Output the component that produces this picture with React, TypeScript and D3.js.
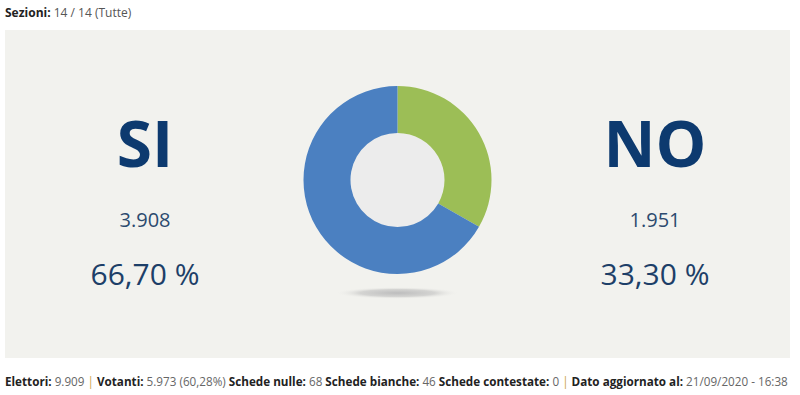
import React, { useEffect, useRef } from 'react';
import * as d3 from 'd3';

const labels = ['SI', 'NO'];
const votes = [3908, 1951];
const colors = ['#4b80c1', '#9cbe56'];
const percentLabels = ['66,70 %', '33,30 %'];
const voteLabels = ['3.908', '1.951'];

const headerItems = [{ key: 'Sezioni:', value: ' 14 / 14 (Tutte)' }];
const footerItems = [
  { key: 'Elettori:', value: ' 9.909 ', sep: '| ' },
  { key: 'Votanti:', value: ' 5.973 (60,28%) ', sep: '' },
  { key: 'Schede nulle:', value: ' 68 ', sep: '' },
  { key: 'Schede bianche:', value: ' 46 ', sep: '' },
  { key: 'Schede contestate:', value: ' 0 ', sep: '| ' },
  { key: 'Dato aggiornato al:', value: ' 21/09/2020 - 16:38', sep: '' },
];

const W = 800;
const H = 395;
const font = "'Open Sans', 'Noto Sans', sans-serif";

const App: React.FC = () => {
  const ref = useRef<SVGSVGElement | null>(null);

  useEffect(() => {
    const svg = d3.select(ref.current!);
    svg.selectAll('*').remove();

    const defs = svg.append('defs');
    const grad = defs.append('radialGradient').attr('id', 'shadow');
    grad.append('stop').attr('offset', '0%').attr('stop-color', '#bdbdbd');
    grad.append('stop').attr('offset', '60%').attr('stop-color', '#d4d4d2');
    grad.append('stop').attr('offset', '100%').attr('stop-color', '#f2f2ee').attr('stop-opacity', 0);

    // panel
    svg.append('rect')
      .attr('x', 5).attr('y', 30)
      .attr('width', 785).attr('height', 328)
      .attr('fill', '#f2f2ee');

    // header
    const header = svg.append('text')
      .attr('x', 5).attr('y', 17)
      .attr('font-family', font)
      .attr('font-size', 12);
    headerItems.forEach(h => {
      header.append('tspan').attr('font-weight', 'bold').attr('fill', '#222').text(h.key);
      header.append('tspan').attr('fill', '#555').text(h.value);
    });

    // donut
    const cx = 397.5, cy = 180;
    const outerR = 94, innerR = 47;

    svg.append('ellipse')
      .attr('cx', cx).attr('cy', 293)
      .attr('rx', 62).attr('ry', 6)
      .attr('fill', 'url(#shadow)');

    const order = [1, 0]; // NO starts at 12 o'clock
    const pie = d3.pie<number>().sort(null).value(i => votes[i]);
    const arc = d3.arc<d3.PieArcDatum<number>>().innerRadius(innerR).outerRadius(outerR);

    const g = svg.append('g').attr('transform', `translate(${cx},${cy})`);
    g.append('circle').attr('r', innerR).attr('fill', '#ececec');
    g.selectAll('path')
      .data(pie(order))
      .enter()
      .append('path')
      .attr('d', arc)
      .attr('fill', d => colors[d.data]);

    // labels
    const colX = [145, 655];
    labels.forEach((lab, i) => {
      svg.append('text')
        .attr('x', colX[i]).attr('y', 167)
        .attr('text-anchor', 'middle')
        .attr('font-family', font)
        .attr('font-weight', 'bold')
        .attr('font-size', 64)
        .attr('fill', '#0d3a6f')
        .text(lab);
      svg.append('text')
        .attr('x', colX[i]).attr('y', 227)
        .attr('text-anchor', 'middle')
        .attr('font-family', font)
        .attr('font-size', 20)
        .attr('fill', '#2c4a6e')
        .text(voteLabels[i]);
      svg.append('text')
        .attr('x', colX[i]).attr('y', 285)
        .attr('text-anchor', 'middle')
        .attr('font-family', font)
        .attr('font-size', 30)
        .attr('fill', '#1d3f68')
        .text(percentLabels[i]);
    });

    // footer: drawn at natural size, then squeezed horizontally to fit
    const footerG = svg.append('g');
    const footer = footerG.append('text')
      .attr('x', 0).attr('y', 0)
      .attr('font-family', font)
      .attr('font-size', 13);
    footerItems.forEach(f => {
      footer.append('tspan').attr('font-weight', 'bold').attr('fill', '#222').text(f.key);
      footer.append('tspan').attr('fill', '#666').text(f.value);
      if (f.sep) footer.append('tspan').attr('fill', '#c9a24a').text(f.sep);
    });
    const w = (footer.node() as SVGTextElement).getComputedTextLength() || 783;
    footerG.attr('transform', `translate(5,386) scale(${783 / w},1)`);
  }, []);

  return (
    <svg
      ref={ref}
      width={W}
      height={H}
      style={{ position: 'absolute', left: 0, top: 0, background: '#fff' }}
    />
  );
};

export default App;
